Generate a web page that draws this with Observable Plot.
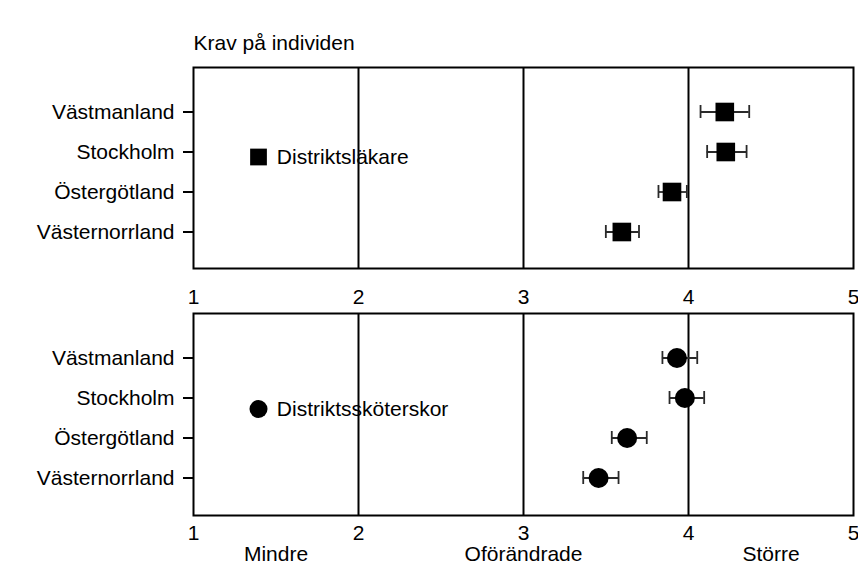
<!DOCTYPE html>
<html><head><meta charset="utf-8">
<script src="https://cdn.jsdelivr.net/npm/d3@7"></script>
<script src="https://cdn.jsdelivr.net/npm/@observablehq/plot@0.6"></script>
<style>
body{margin:0;background:#fff;font-family:"Liberation Sans",Arial,sans-serif}
#chart{width:858px}
#chart svg{display:block}
</style>
</head><body><div id="chart"></div>
<script>
const regions = ["Västmanland", "Stockholm", "Östergötland", "Västernorrland"];
const lakareMean = [4.22, 4.226, 3.90, 3.596];
const lakareLow = [4.073, 4.113, 3.818, 3.499];
const lakareHigh = [4.368, 4.352, 3.99, 3.70];
const skoterskaMean = [3.93, 3.978, 3.628, 3.455];
const skoterskaLow = [3.842, 3.885, 3.535, 3.362];
const skoterskaHigh = [4.053, 4.095, 3.747, 3.576];
const xTicks = [1, 2, 3, 4, 5];
const gridValues = [2, 3, 4];
const scaleLabelValues = [1.5, 3, 4.5];
const scaleLabelTexts = ["Mindre", "Oförändrade", "Större"];
const titleText = "Krav på individen";
const legendLakare = "Distriktsläkare";
const legendSkoterska = "Distriktssköterskor";

const FONT = '"Liberation Sans", Arial, sans-serif';
const FS = 21;

function rows(mean, low, high) {
  return regions.map((r, i) => ({region: r, mean: mean[i], low: low[i], high: high[i]}));
}

function panel(o) {
  const data = rows(o.mean, o.low, o.high);
  const marks = [
    Plot.ruleX(gridValues, {stroke: "#000", strokeWidth: 2}),
    Plot.frame({stroke: "#000", strokeWidth: 2}),
    Plot.axisY({tickSize: 10, tickPadding: 9, fontSize: FS, strokeWidth: 2, stroke: "#000", label: null}),
    Plot.axisX({ticks: xTicks, tickSize: 0, tickPadding: o.tickPad, fontSize: FS, label: null, tickFormat: d => String(d)}),
    Plot.ruleY(data, {y: "region", x1: "low", x2: "high", stroke: "#2a2a2a", strokeWidth: 1.8}),
    Plot.tickX(data, {y: "region", x: "low", stroke: "#2a2a2a", strokeWidth: 1.8}),
    Plot.tickX(data, {y: "region", x: "high", stroke: "#2a2a2a", strokeWidth: 1.8}),
    Plot.dot(data, {y: "region", x: "mean", symbol: o.symbol, r: o.r, fill: "#000", stroke: "none"}),
    Plot.dot([o.legend], {x: 1.394, y: () => "Stockholm", dy: o.legendDy, symbol: o.symbol, r: o.r * 0.9, fill: "#000", stroke: "none"}),
    Plot.text([o.legend], {x: 1.505, y: () => "Stockholm", dy: o.legendDy, text: d => d, textAnchor: "start", lineAnchor: "middle", fontSize: FS, fill: "#000"})
  ];
  if (o.title) {
    marks.push(Plot.text([o.title], {frameAnchor: "top-left", dy: -24, text: d => d, textAnchor: "start", lineAnchor: "middle", fontSize: FS, fill: "#000"}));
  }
  if (o.bottomLabels) {
    marks.push(Plot.text(scaleLabelValues, {x: d => d, text: (d, i) => scaleLabelTexts[i], frameAnchor: "bottom", dy: 39, lineAnchor: "middle", fontSize: FS, fill: "#000"}));
  }
  return Plot.plot({
    width: 858,
    height: o.height,
    marginLeft: 193,
    marginRight: 5,
    marginTop: o.marginTop,
    marginBottom: o.marginBottom,
    style: {fontFamily: FONT, fontSize: FS + "px", color: "#000", background: "#fff", overflow: "visible"},
    x: {domain: [1, 5]},
    y: {type: "band", domain: regions, range: o.yRange, paddingInner: 0.675, paddingOuter: 0.3375},
    marks
  });
}

const topPanel = panel({
  mean: lakareMean, low: lakareLow, high: lakareHigh,
  symbol: "square", r: 10.5, legend: legendLakare, legendDy: 5,
  height: 305, marginTop: 67, marginBottom: 37, yRange: [91, 251], tickPad: 21,
  title: titleText
});
const bottomPanel = panel({
  mean: skoterskaMean, low: skoterskaLow, high: skoterskaHigh,
  symbol: "circle", r: 10, legend: legendSkoterska, legendDy: 11,
  height: 262, marginTop: 8, marginBottom: 52, yRange: [32, 192], tickPad: 10,
  bottomLabels: true
});
document.getElementById("chart").append(topPanel, bottomPanel);
</script>
</body></html>
